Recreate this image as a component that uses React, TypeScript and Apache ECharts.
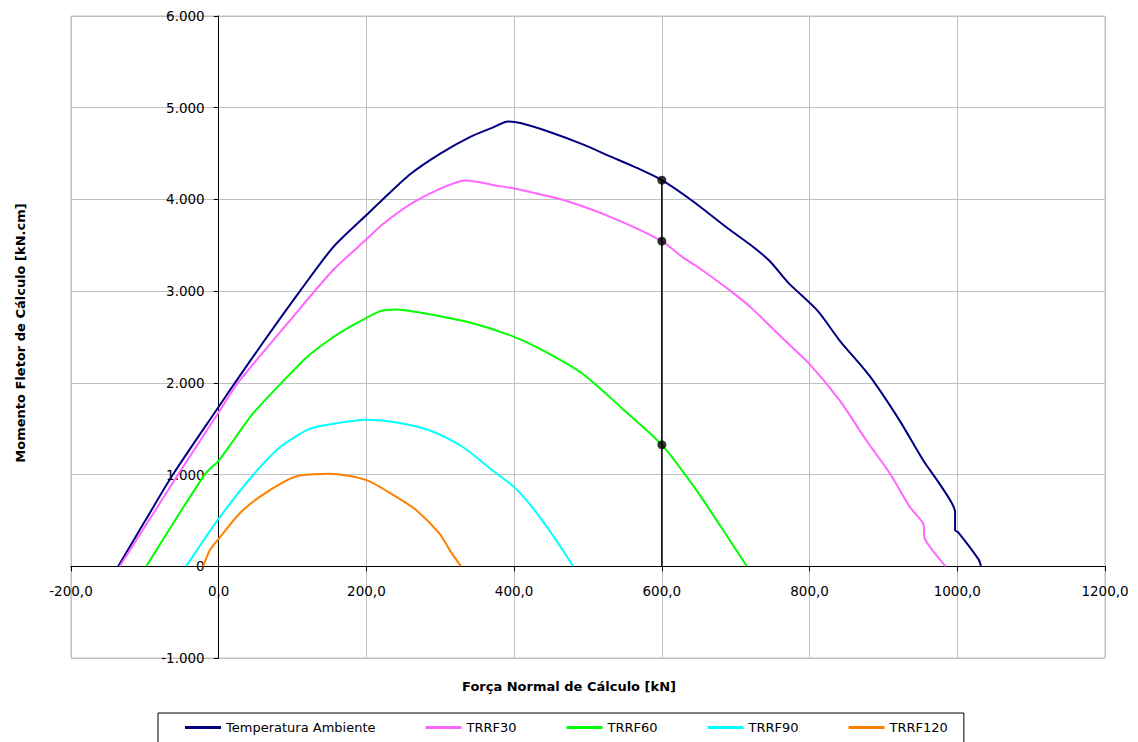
import React, { useEffect, useRef } from "react";
import * as echarts from "echarts";

const seriesNames = ["Temperatura Ambiente", "TRRF30", "TRRF60", "TRRF90", "TRRF120"];
const seriesColors = ["#000080", "#FF66FF", "#00FF00", "#00FFFF", "#FF8000"];

const ambiente: number[][] = [
  [-136, 0], [-100, 490], [-62, 1000], [0, 1740], [22, 2000], [60, 2440], [110, 3000],
  [155, 3480], [200, 3830], [222, 4000], [260, 4280], [300, 4500], [340, 4680],
  [370, 4780], [392, 4850], [410, 4830], [450, 4730], [493, 4600], [530, 4470],
  [566, 4344], [600, 4210], [642, 3980], [690, 3680], [719, 3511], [746, 3329],
  [771, 3093], [811, 2785], [841, 2459], [881, 2078], [922, 1588], [954, 1153],
  [979, 863], [997, 591], [997, 392], [1001, 373], [1029, 73], [1032, 0],
];
const trrf30: number[][] = [
  [-134, 0], [-55, 1000], [0, 1680], [26, 2000], [96, 2676], [155, 3230], [200, 3565],
  [222, 3729], [263, 3964], [308, 4145], [335, 4207], [380, 4145], [400, 4120],
  [471, 3982], [538, 3783], [600, 3545], [629, 3365], [651, 3250], [696, 2984],
  [723, 2804], [760, 2513], [800, 2205], [841, 1806], [877, 1371], [909, 1009],
  [936, 645], [954, 464], [956, 301], [984, 0],
];
const trrf60: number[][] = [
  [-98, 0], [-19, 1000], [0, 1153], [46, 1661], [85, 2000], [119, 2277], [150, 2470],
  [180, 2620], [218, 2780], [240, 2800], [272, 2767], [340, 2658], [400, 2502],
  [444, 2332], [493, 2096], [547, 1716], [600, 1324], [647, 827], [692, 283], [715, 0],
];
const trrf90: number[][] = [
  [-44, 0], [0, 519], [46, 990], [83, 1298], [123, 1498], [155, 1553], [199, 1598],
  [245, 1563], [286, 1480], [331, 1298], [371, 1044], [400, 863], [426, 628],
  [457, 283], [480, 0],
];
const trrf120: number[][] = [
  [-21, 0], [-12, 174], [0, 300], [28, 573], [55, 754], [92, 936], [110, 990],
  [150, 1010], [200, 940], [241, 754], [268, 609], [299, 356], [313, 174], [328, 0],
];
const seriesData = [ambiente, trrf30, trrf60, trrf90, trrf120];

const markerX = 600;
const markerLine: number[][] = [[markerX, 0], [markerX, 4210]];
const markerPoints: number[][] = [[markerX, 4210], [markerX, 3545], [markerX, 1324]];

const xMin = -200, xMax = 1200, xStep = 200;
const yMin = -1000, yMax = 6000, yStep = 1000;

const xTitle = "Força Normal de Cálculo [kN]";
const yTitle = "Momento Fletor de Cálculo [kN.cm]";

const FONT = "DejaVu Sans";

const GRID_LEFT = 71, GRID_RIGHT = 33, GRID_TOP = 16, GRID_BOTTOM = 84;
const W = 1138, H = 742;

function fmtY(v: number): string {
  if (v === 0) return "0";
  const s = Math.abs(v).toString().replace(/\B(?=(\d{3})+(?!\d))/g, ".");
  return (v < 0 ? "-" : "") + s;
}
function fmtX(v: number): string {
  return v.toFixed(1).replace(".", ",");
}

export default function App() {
  const ref = useRef<HTMLDivElement>(null);
  useEffect(() => {
    if (!ref.current) return;
    const chart = echarts.init(ref.current, undefined, { renderer: "svg" });
    const plotW = W - GRID_LEFT - GRID_RIGHT;
    const plotH = H - GRID_TOP - GRID_BOTTOM;
    // offsets that bring each axis onto the other axis's zero
    const xAxisOffset = -(plotH * (0 - yMin)) / (yMax - yMin);
    const yAxisOffset = -(plotW * (0 - xMin)) / (xMax - xMin);
    const lineSeries = seriesNames.map((name, i) => ({
      name,
      type: "line",
      data: seriesData[i],
      showSymbol: false,
      symbol: "none",
      smooth: 0.25,
      lineStyle: { color: seriesColors[i], width: 2 },
      itemStyle: { color: seriesColors[i] },
      z: 3,
    }));
    chart.setOption({
      animation: false,
      backgroundColor: "#ffffff",
      grid: {
        left: GRID_LEFT, right: GRID_RIGHT, top: GRID_TOP, bottom: GRID_BOTTOM,
        show: true, borderColor: "#c0c0c0", borderWidth: 1,
      },
      xAxis: {
        type: "value", min: xMin, max: xMax, interval: xStep,
        position: "bottom", offset: xAxisOffset,
        axisLine: { onZero: false, lineStyle: { color: "#000", width: 1 } },
        axisTick: { show: true, length: 5, lineStyle: { color: "#000" } },
        axisLabel: { formatter: fmtX, color: "#000", fontFamily: FONT, fontSize: 13.5, margin: 18 },
        splitLine: { show: true, lineStyle: { color: "#c0c0c0", width: 1 } },
      },
      yAxis: {
        type: "value", min: yMin, max: yMax, interval: yStep,
        position: "left", offset: yAxisOffset,
        axisLine: { show: true, onZero: false, lineStyle: { color: "#000", width: 1 } },
        axisTick: { show: true, length: 5, lineStyle: { color: "#000" } },
        axisLabel: { formatter: fmtY, color: "#000", fontFamily: FONT, fontSize: 13.5, margin: 14 },
        splitLine: { show: true, lineStyle: { color: "#c0c0c0", width: 1 } },
      },
      legend: {
        data: seriesNames,
        left: 158, top: 713,
        padding: [8, 16, 14, 27],
        itemGap: 50,
        itemWidth: 36, itemHeight: 3,
        icon: "rect",
        borderColor: "#000", borderWidth: 1,
        textStyle: { color: "#000", fontFamily: FONT, fontSize: 13 },
      },
      graphic: [
        {
          type: "text", left: "center", top: 680,
          style: { text: xTitle, fill: "#000", font: `bold 13px "${FONT}"` },
        },
        {
          type: "text", x: 20, y: 333, rotation: Math.PI / 2,
          style: { text: yTitle, fill: "#000", font: `bold 13px "${FONT}"`, align: "center", verticalAlign: "middle" },
        },
      ],
      series: [
        ...lineSeries,
        {
          name: "marker-line",
          type: "line",
          data: markerLine,
          symbol: "none",
          lineStyle: { color: "#000", width: 1.5 },
          z: 4,
        },
        {
          name: "marker-points",
          type: "scatter",
          data: markerPoints,
          symbol: "circle",
          symbolSize: 9,
          itemStyle: { color: "#000" },
          z: 5,
        },
      ],
    });
    return () => chart.dispose();
  }, []);
  return <div ref={ref} style={{ position: "absolute", left: 0, top: 0, width: W, height: H }} />;
}
